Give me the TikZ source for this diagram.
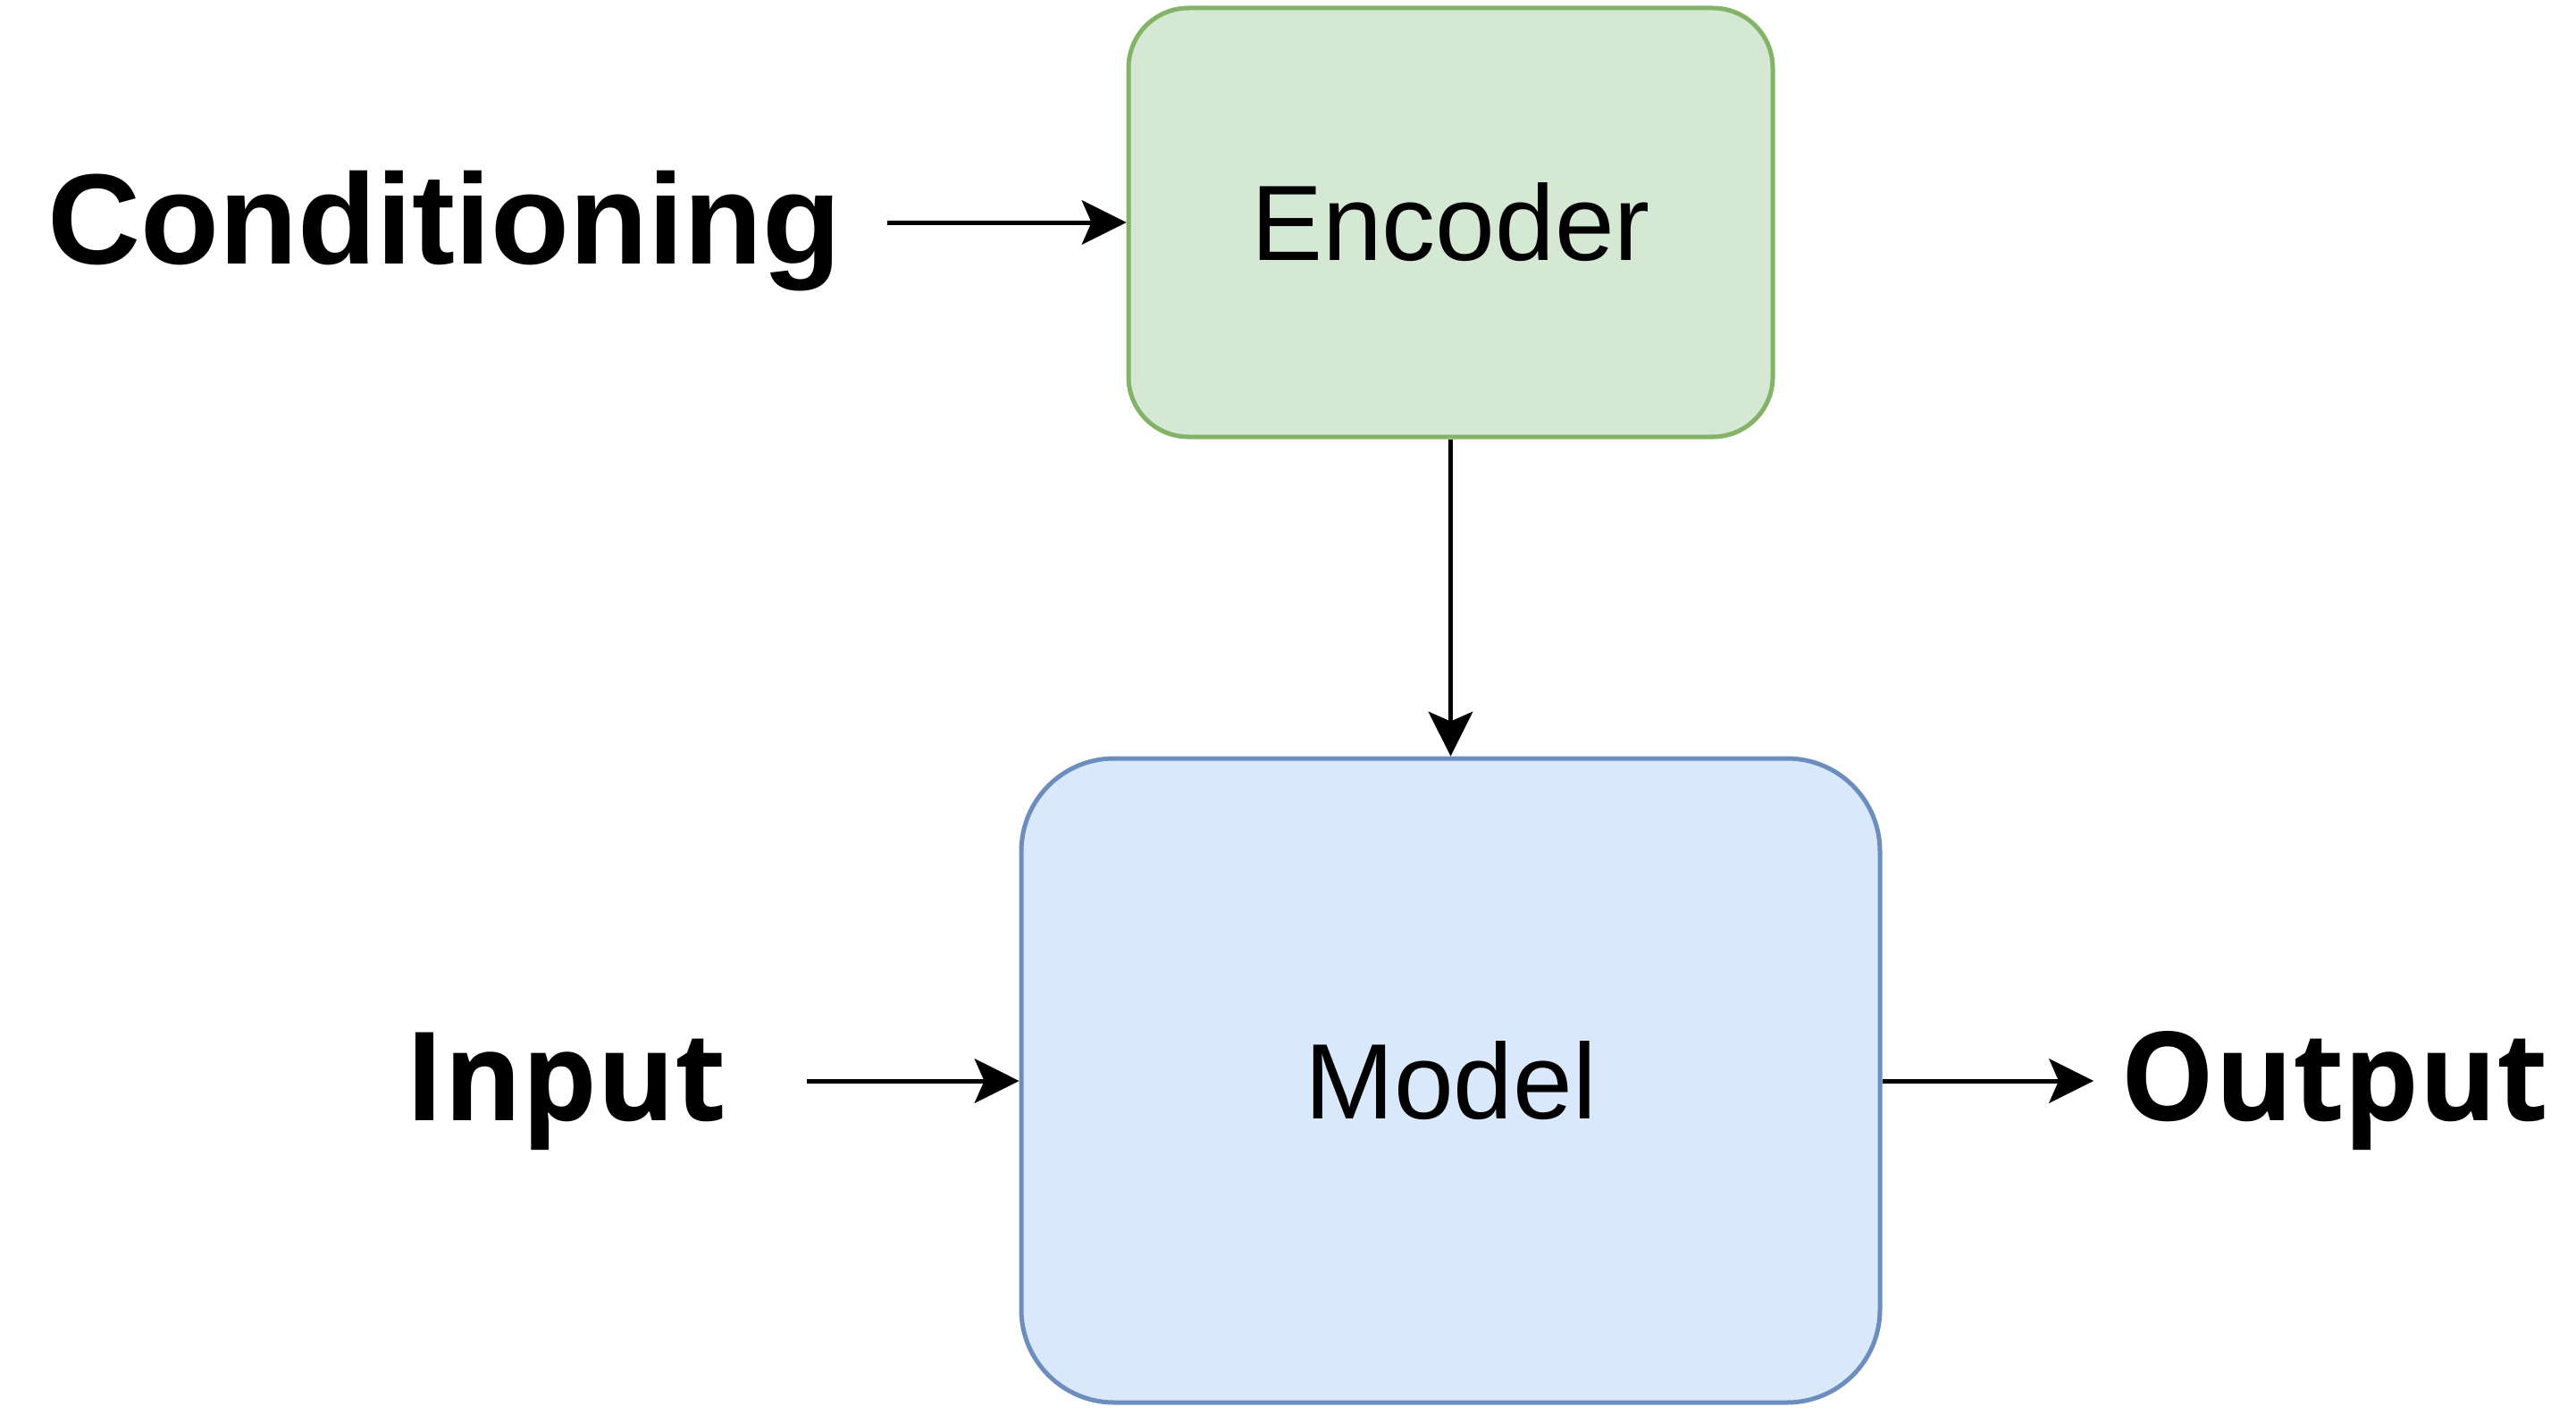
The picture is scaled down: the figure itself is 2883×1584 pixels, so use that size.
\documentclass[tikz,border=0pt]{standalone}
\usepackage{fontspec}
\setmainfont{Liberation Sans}
\newfontfamily\opensans[FakeStretch=0.96]{Open Sans}
\usetikzlibrary{arrows.meta}
\definecolor{encfill}{HTML}{D5E8D4}
\definecolor{encdraw}{HTML}{82B366}
\definecolor{modfill}{HTML}{DAE8FC}
\definecolor{moddraw}{HTML}{6C8EBF}
\tikzset{
  box/.style={rounded corners=#1, line width=5pt, inner sep=0pt,
    font=\fontsize{120}{144}\selectfont},
  arr/.style={line width=5pt, -{Stealth[length=50pt,width=50pt,inset=11pt,line width=1pt]}},
  bigbold/.style={anchor=base, inner sep=0pt, font=\fontsize{144}{170}\selectfont\bfseries},
  bigopen/.style={anchor=base, inner sep=0pt, font=\fontsize{138}{170}\selectfont\opensans\bfseries},
}
\begin{document}
\begin{tikzpicture}[x=1pt,y=-1pt]
\useasboundingbox (0,0) rectangle (2883,1584);
\node[box=67pt, fill=encfill, draw=encdraw, minimum width=721pt, minimum height=480pt] (enc) at (1623.5,249) {Encoder};
\node[box=104pt, fill=modfill, draw=moddraw, minimum width=961pt, minimum height=721pt] (model) at (1623.5,1209.5) {Model};
\node[bigbold] (cond) at (497,295) {Conditioning};
\node[bigopen] (inp) at (633,1254) {Input};
\node[bigopen] (outp) at (2613,1254) {Output};
\coordinate (c1) at (993,249);
\coordinate (i1) at (903,1210);
\coordinate (o1) at (2343,1210);
\draw[arr] (c1) -- (enc.west);
\draw[arr] (enc.south) -- (model.north);
\draw[arr] (i1) -- (i1 -| model.west);
\draw[arr] (model.east |- o1) -- (o1);
\end{tikzpicture}
\end{document}
